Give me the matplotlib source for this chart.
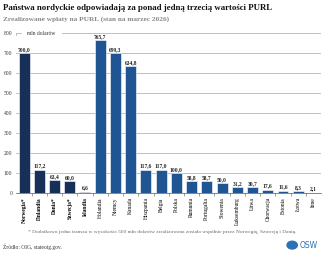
import matplotlib.pyplot as plt
from matplotlib.patches import Circle

countries = ["Norwegia*", "Finlandia", "Dania*", "Szwecja*", "Islandia", "Holandia", "Niemcy",
             "Kanada", "Hiszpania", "Belgia", "Polska", "Rumunia", "Portugalia", "Słowenia",
             "Luksemburg", "Litwa", "Chorwacja", "Estonia", "Łotwa", "Inne"]
values = [700.0, 117.2, 63.4, 60.0, 6.6, 765.7, 699.3, 634.8, 117.6, 117.0, 100.0, 58.8,
          58.7, 50.0, 31.2, 30.7, 17.6, 11.6, 8.3, 2.1]
nordic = [True] * 5 + [False] * 15

dark = "#17305a"
blue = "#1f5592"
serif = "Liberation Serif"

fig = plt.figure(figsize=(3.25, 2.54), dpi=100)
ax = fig.add_axes([0.0505, 0.240, 0.9375, 0.630])

x = list(range(len(values)))
colors = [dark if n else blue for n in nordic]
ax.bar(x, values, width=0.72, color=colors, edgecolor="white", linewidth=0.4, zorder=3)

for xi, v in zip(x, values):
    ax.text(xi, v + 6, f"{v:.1f}".replace(".", ","), ha="center", va="bottom",
            fontsize=4.0, fontweight="bold", family=serif, color="#222222", zorder=4)

ax.set_xlim(-0.5, len(values) - 0.5)
ax.set_ylim(0, 800)
ax.set_yticks(range(0, 801, 100))
ax.grid(axis="y", color="#b5b5b5", linewidth=0.6, zorder=0)
ax.tick_params(axis="y", length=0, labelsize=4.0, pad=3, colors="#333333")
for lab in ax.get_yticklabels():
    lab.set_family(serif)

ax.set_xticks(x)
ax.set_xticklabels(countries, rotation=90, fontsize=4.0, family=serif)
for lab, n in zip(ax.get_xticklabels(), nordic):
    if n:
        lab.set_fontweight("bold")
ax.tick_params(axis="x", length=0, pad=3)
ax.set_xticks([i + 0.5 for i in x[:-1]], minor=True)
ax.tick_params(axis="x", which="minor", length=2, width=0.4, color="#555555")

for s in ["top", "right", "left"]:
    ax.spines[s].set_visible(False)
ax.spines["bottom"].set_color("#555555")
ax.spines["bottom"].set_linewidth(0.5)

ax.text(0.2, 800, "mln dolarów", ha="left", va="center", fontsize=4.0, family=serif,
        color="#333333", backgroundcolor="white", zorder=5)
ax.plot([-0.5, -0.5], [790, 800], color="#b5b5b5", linewidth=0.6, zorder=1, clip_on=False)

fig.text(0.009, 0.968, "Państwa nordyckie odpowiadają za ponad jedną trzecią wartości PURL",
         fontsize=6.3, fontweight="bold", family=serif, color="#111111", va="center")
fig.text(0.009, 0.925, "Zrealizowane wpłaty na PURL (stan na marzec 2026)",
         fontsize=5.2, fontweight="bold", family=serif, color="#888888", va="center")
fig.text(0.087, 0.088, "* Dodatkowo jedna transza w wysokości 500 mln dolarów zrealizowana została wspólnie przez Norwegię, Szwecję i Danię.",
         fontsize=3.9, family=serif, color="#666666", va="center")
fig.text(0.009, 0.028, "Źródło: OIG, stateoig.gov.", fontsize=4.0, family=serif,
         color="#333333", va="center")

fig.patches.append(Circle((0.899, 0.035), 0.018, transform=fig.transFigure,
                          facecolor="#2a72b8", edgecolor="none"))
fig.text(0.922, 0.035, "OSW", fontsize=5.5, color="#2a72b8", va="center", family="DejaVu Sans")

fig.savefig("out.png", dpi=100)
